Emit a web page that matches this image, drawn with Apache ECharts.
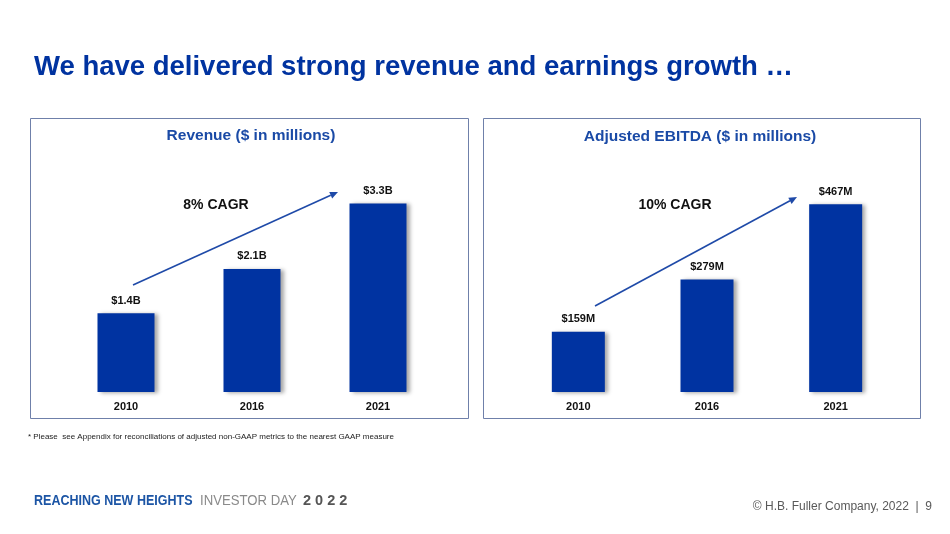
<!DOCTYPE html>
<html>
<head>
<meta charset="utf-8">
<script src="https://cdn.jsdelivr.net/npm/echarts@6/dist/echarts.min.js"></script>
<style>html,body{margin:0;padding:0;background:#fff}#c{width:950px;height:534px}</style>
</head>
<body>
<div id="c"></div>
<script>
const years = ['2010', '2016', '2021'];
const revenueValues = [1.37, 2.14, 3.28];
const revenueLabels = ['$1.4B', '$2.1B', '$3.3B'];
const ebitdaValues = [150, 280, 467];
const ebitdaLabels = ['$159M', '$279M', '$467M'];

const FF = '"Liberation Sans", Arial, sans-serif';
const BLUE = '#0033a1';

function arrow(x1, y1, x2, y2, color) {
  const dx = x2 - x1, dy = y2 - y1, L = Math.sqrt(dx * dx + dy * dy);
  const ux = dx / L, uy = dy / L, nx = -uy, ny = ux;
  const hl = 8, hw = 3.5;
  const bx = x2 - ux * hl, by = y2 - uy * hl;
  return [
    { type: 'line', silent: true, shape: { x1: x1, y1: y1, x2: bx, y2: by }, style: { stroke: color, lineWidth: 1.6 } },
    { type: 'polygon', silent: true, shape: { points: [[x2, y2], [bx + nx * hw, by + ny * hw], [bx - nx * hw, by - ny * hw]] }, style: { fill: color } }
  ];
}

const chart = echarts.init(document.getElementById('c'), null, { renderer: 'canvas' });

const barLabel = (labels) => ({
  show: true, position: 'top', distance: 7,
  formatter: p => labels[p.dataIndex],
  color: '#111', fontWeight: 'bold', fontSize: 11, fontFamily: FF
});
const shadow = { color: BLUE, shadowColor: 'rgba(0,0,0,0.35)', shadowBlur: 4, shadowOffsetX: 3, shadowOffsetY: 1 };
const xAx = (gi) => ({
  type: 'category', gridIndex: gi, data: years,
  axisLine: { show: false }, axisTick: { show: false },
  axisLabel: { color: '#111', fontWeight: 'bold', fontSize: 11, fontFamily: FF, margin: 9 }
});

const option = {
  backgroundColor: '#fff',
  animation: false,
  grid: [
    { left: 63, width: 378, top: 162, height: 230 },
    { left: 514, width: 386, top: 191, height: 201 }
  ],
  xAxis: [xAx(0), xAx(1)],
  yAxis: [
    { type: 'value', gridIndex: 0, min: 0, max: 4, show: false },
    { type: 'value', gridIndex: 1, min: 0, max: 500, show: false }
  ],
  series: [
    { type: 'bar', xAxisIndex: 0, yAxisIndex: 0, data: revenueValues, barWidth: 57, itemStyle: shadow, label: barLabel(revenueLabels) },
    { type: 'bar', xAxisIndex: 1, yAxisIndex: 1, data: ebitdaValues, barWidth: 53, itemStyle: shadow, label: barLabel(ebitdaLabels) }
  ],
  graphic: [
    { type: 'text', silent: true, x: 34, y: 67, style: { text: 'We have delivered strong revenue and earnings growth \u2026', fontSize: 27.5, fontWeight: 'bold', fontFamily: FF, fill: '#0033a0', verticalAlign: 'middle' } },
    { type: 'rect', silent: true, z: -1, shape: { x: 30.5, y: 118.5, width: 438, height: 300 }, style: { fill: 'none', stroke: '#6f80aa', lineWidth: 1 } },
    { type: 'rect', silent: true, z: -1, shape: { x: 483.5, y: 118.5, width: 437, height: 300 }, style: { fill: 'none', stroke: '#6f80aa', lineWidth: 1 } },
    { type: 'text', silent: true, x: 251, y: 136, style: { text: 'Revenue ($ in millions)', fontSize: 15.5, fontWeight: 'bold', fontFamily: FF, fill: '#1a4aa6', align: 'center', verticalAlign: 'middle' } },
    { type: 'text', silent: true, x: 700, y: 137, style: { text: 'Adjusted EBITDA ($ in millions)', fontSize: 15.5, fontWeight: 'bold', fontFamily: FF, fill: '#1a4aa6', align: 'center', verticalAlign: 'middle' } },
    { type: 'text', silent: true, x: 216, y: 205, style: { text: '8% CAGR', fontSize: 14, fontWeight: 'bold', fontFamily: FF, fill: '#111', align: 'center', verticalAlign: 'middle' } },
    { type: 'text', silent: true, x: 675, y: 205, style: { text: '10% CAGR', fontSize: 14, fontWeight: 'bold', fontFamily: FF, fill: '#111', align: 'center', verticalAlign: 'middle' } },
    ...arrow(133, 285, 338, 192, '#1f4aa8'),
    ...arrow(595, 306, 797, 197, '#1f4aa8'),
    { type: 'text', silent: true, x: 28, y: 437, style: { text: '* Please  see Appendix for reconciliations of adjusted non-GAAP metrics to the nearest GAAP measure', fontSize: 8, fontFamily: FF, fill: '#222', verticalAlign: 'middle' } },
    { type: 'text', silent: true, x: 34, y: 501, scaleX: 0.894, style: { text: 'REACHING NEW HEIGHTS', fontSize: 14, fontWeight: 'bold', fontFamily: FF, fill: '#1c55a5', verticalAlign: 'middle' } },
    { type: 'text', silent: true, x: 200, y: 501, scaleX: 0.94, style: { text: 'INVESTOR DAY', fontSize: 14, fontFamily: FF, fill: '#8a8a8a', verticalAlign: 'middle' } },
    { type: 'text', silent: true, x: 303, y: 501, style: { text: '2 0 2 2', fontSize: 14.5, fontWeight: 'bold', fontFamily: FF, fill: '#555', verticalAlign: 'middle' } },
    { type: 'text', silent: true, x: 932, y: 507, style: { text: '\u00a9 H.B. Fuller Company, 2022  |  9', fontSize: 12, fontFamily: FF, fill: '#595959', align: 'right', verticalAlign: 'middle' } }
  ]
};
chart.setOption(option);
</script>
</body>
</html>
